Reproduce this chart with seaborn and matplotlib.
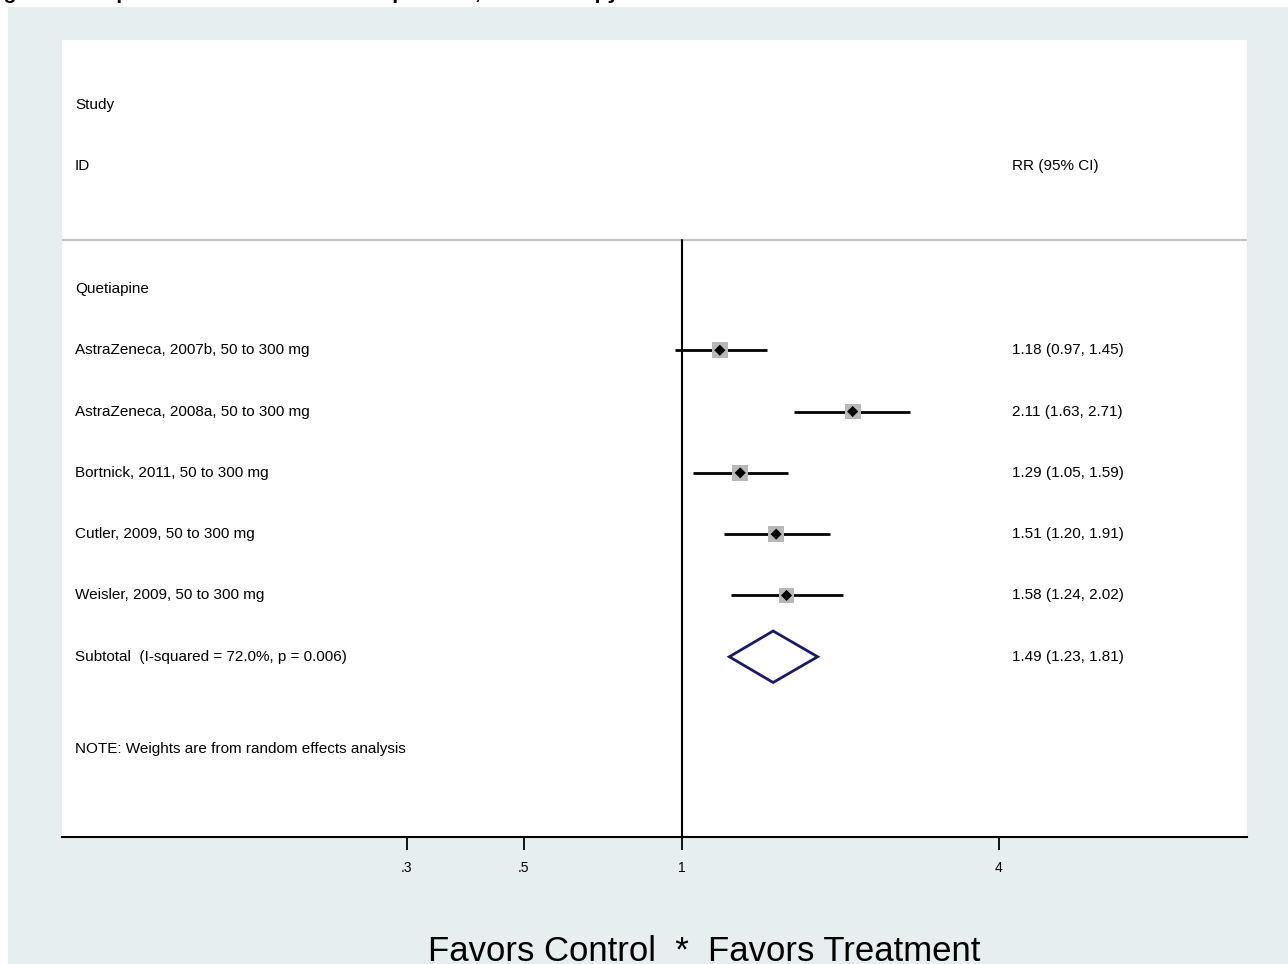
import numpy as np
import pandas as pd
import seaborn as sns
import matplotlib.pyplot as plt
from matplotlib.patches import Rectangle
from matplotlib.transforms import blended_transform_factory

# %% data
studies = [
    "AstraZeneca, 2007b, 50 to 300 mg",
    "AstraZeneca, 2008a, 50 to 300 mg",
    "Bortnick, 2011, 50 to 300 mg",
    "Cutler, 2009, 50 to 300 mg",
    "Weisler, 2009, 50 to 300 mg",
]
rr = [1.18, 2.11, 1.29, 1.51, 1.58]
lo = [0.97, 1.63, 1.05, 1.20, 1.24]
hi = [1.45, 2.71, 1.59, 1.91, 2.02]
sub_rr, sub_lo, sub_hi = 1.49, 1.23, 1.81
subtotal_label = "Subtotal  (I-squared = 72.0%, p = 0.006)"
group_label = "Quetiapine"
note = "NOTE: Weights are from random effects analysis"
tick_vals = [0.3, 0.5, 1, 4]
tick_labels = [".3", ".5", "1", "4"]

df = pd.DataFrame({"study": studies, "rr": rr, "lo": lo, "hi": hi})
df["row"] = np.arange(1, len(df) + 1)
df["label"] = [f"{r:.2f} ({a:.2f}, {b:.2f})" for r, a, b in zip(rr, lo, hi)]

# %% plot
sns.set_style("white")
plt.rcParams["font.family"] = ["Liberation Sans", "DejaVu Sans"]
plt.rcParams["text.color"] = "black"
plt.rcParams["xtick.color"] = "black"

W, H = 1288, 964
fig = plt.figure(figsize=(W / 100, H / 100), dpi=100)
fig.patch.set_facecolor("white")
fig.add_artist(Rectangle((8 / W, 0), 1 - 8 / W, 1 - 7 / H, transform=fig.transFigure,
                         facecolor="#e7eef0", edgecolor="none", zorder=-5))

ax = fig.add_axes([62 / W, 1 - 837 / H, (1247 - 62) / W, (837 - 40) / H])
ax.set_facecolor("white")
ax.set_xscale("log")
px = (998 - 406) / (np.log(4) - np.log(0.3))
ax.set_xlim(np.exp((62 - 682) / px), np.exp((1247 - 682) / px))
ax.set_ylim(8.94, -4.06)

# confidence intervals
ax.hlines(df["row"], df["lo"], df["hi"], color="black", lw=2, zorder=2)
# weight boxes and point estimates
sns.scatterplot(data=df, x="rr", y="row", marker="s", s=130, color="#b8b8b8",
                edgecolor="none", ax=ax, zorder=3, legend=False)
sns.scatterplot(data=df, x="rr", y="row", marker="D", s=32, color="black",
                edgecolor="none", ax=ax, zorder=4, legend=False)

# subtotal diamond
h = 0.42
ax.fill([sub_lo, sub_rr, sub_hi, sub_rr], [6, 6 - h, 6, 6 + h], facecolor="white",
        edgecolor="#1a1a6b", lw=2, zorder=3)

# reference lines
ax.axhline(-0.8, color="#c4c4c4", lw=1.6, zorder=1)
ax.plot([1, 1], [-0.8, 8.94], color="black", lw=1.5, zorder=1)

# text columns
tr = blended_transform_factory(ax.transAxes, ax.transData)
fs = 11
ax.text(0.011, -3, "Study", transform=tr, va="center", fontsize=fs)
ax.text(0.011, -2, "ID", transform=tr, va="center", fontsize=fs)
ax.text(0.8017, -2, "RR (95% CI)", transform=tr, va="center", fontsize=fs)
ax.text(0.011, 0, group_label, transform=tr, va="center", fontsize=fs)
for _, r in df.iterrows():
    ax.text(0.011, r["row"], r["study"], transform=tr, va="center", fontsize=fs)
    ax.text(0.8017, r["row"], r["label"], transform=tr, va="center", fontsize=fs)
ax.text(0.011, 6, subtotal_label, transform=tr, va="center", fontsize=fs)
ax.text(0.8017, 6, f"{sub_rr:.2f} ({sub_lo:.2f}, {sub_hi:.2f})", transform=tr,
        va="center", fontsize=fs)
ax.text(0.011, 7.5, note, transform=tr, va="center", fontsize=fs)

# axes styling
for s in ["top", "left", "right"]:
    ax.spines[s].set_visible(False)
ax.spines["bottom"].set_color("black")
ax.spines["bottom"].set_linewidth(1.5)
ax.set_yticks([])
ax.minorticks_off()
ax.set_xticks(tick_vals)
ax.set_xticklabels(tick_labels)
ax.tick_params(axis="x", which="major", direction="out", length=9.5, width=1.3,
               color="black", labelsize=10, pad=8, bottom=True)
ax.tick_params(axis="x", which="minor", bottom=False)
ax.set_xlabel("")
ax.set_ylabel("")

# clipped figure title at the very top and footer label
fig.text(-0.012, 1 + 1 / H, "Figure 4. Response in MDD: SSRI nonresponders, monotherapy",
         fontsize=15, fontweight="bold", va="baseline", ha="left")
fig.text(704 / W, 1 - 961 / H, "Favors Control  *  Favors Treatment", fontsize=25,
         ha="center", va="baseline")

fig.savefig("out.png", dpi=100)
